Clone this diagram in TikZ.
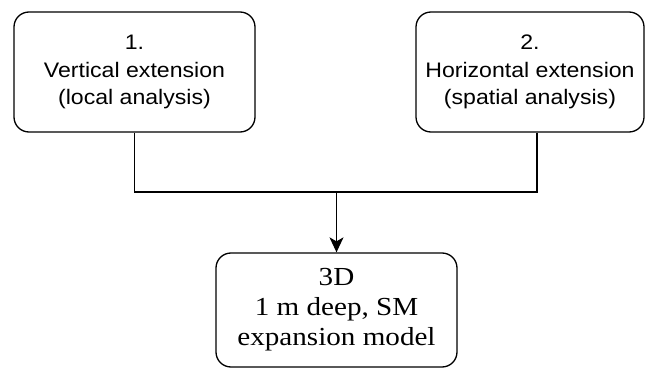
\documentclass[tikz,border=0pt]{standalone}
\usepackage{fontspec}
\setmainfont{Liberation Serif}
\setsansfont{Liberation Sans}
\newfontfamily\stepsans[FakeStretch=1.1]{Liberation Sans}
\newfontfamily\stepserif[FakeStretch=1.12]{Liberation Serif}
\usetikzlibrary{shapes,arrows.meta,positioning}
\begin{document}
\begin{tikzpicture}[x=1pt,y=-1pt]
    % Styles
        \tikzstyle{block} = [rectangle, draw, fill=white, rounded corners=15pt, align=center, inner sep=0pt, line width=1.3pt]
        \tikzstyle{heading} = [font={\stepsans\fontsize{21}{27.5}\selectfont}]
        \tikzstyle{result} = [font={\stepserif\fontsize{26}{30}\selectfont}]
        \tikzstyle{line} = [draw, line width=1.3pt]
        \useasboundingbox (0,0) rectangle (646,369);
    % top row
        \node [block, heading, minimum width=241pt, minimum height=120pt] (vertical) at (134.5,72)
            {1.\\Vertical extension\\(local analysis)};
        \node [block, heading, minimum width=228pt, minimum height=120pt] (horizontal) at (530,72)
            {2.\\Horizontal extension\\(spatial analysis)};
    % bottom
        \node [block, result, minimum width=241pt, minimum height=114pt] (model) at (336.5,310)
            {3D\\1 m deep, SM\\expansion model};
    % Draw edges
        \coordinate (join) at (336.5,192);
        \path [line] (vertical.south) |- (join);
        \path [line] ([xshift=7pt]horizontal.south) |- (join);
        \path [line, -{Stealth[length=15pt,width=14pt,inset=4pt]}] (join) -- (model.north);
    \end{tikzpicture}
\end{document}
